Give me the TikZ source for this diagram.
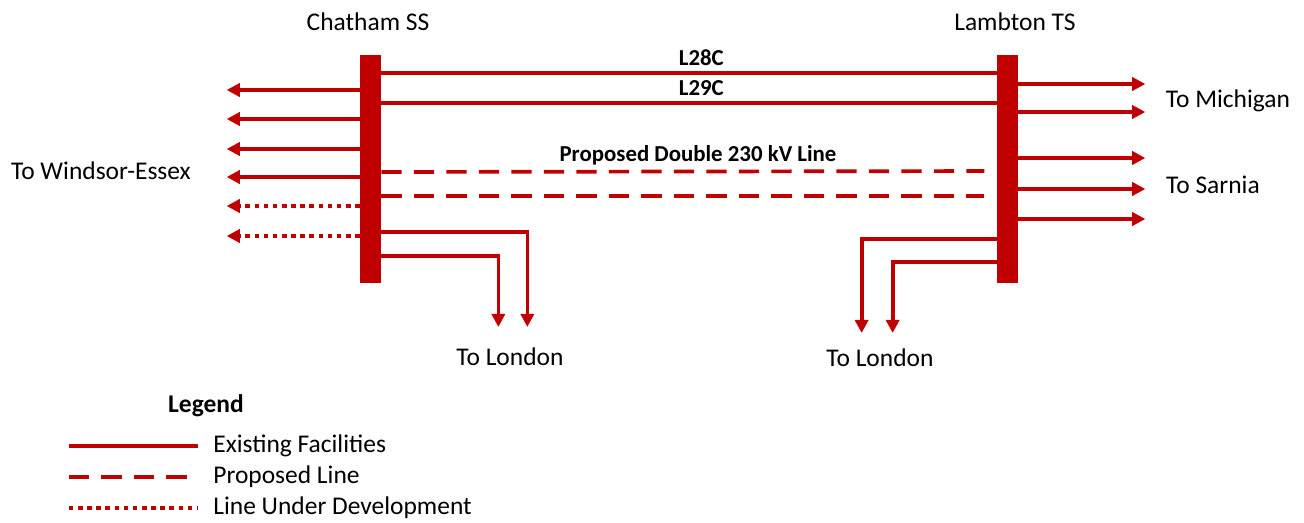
\documentclass[tikz,border=0pt]{standalone}
\usepackage{fontspec}
\setmainfont{Carlito}
\usetikzlibrary{positioning, arrows.meta}
\definecolor{linered}{HTML}{C00000}
\tikzset{
  bus/.style={rectangle, fill=linered, inner sep=0pt, minimum width=0.42cm, minimum height=4.56cm},
  existing/.style={draw=linered, line width=2.1pt},
  proposed/.style={existing, dash pattern=on 11.5pt off 7pt},
  developing/.style={existing, dash pattern=on 2.6pt off 2.6pt},
  feed/.style={-{Triangle[length=7.5pt, width=7.5pt]}},
  placetext/.style={font=\fontsize{14.5}{16}\selectfont, inner sep=0pt},
  linename/.style={font=\bfseries\fontsize{13}{14}\selectfont, inner sep=0pt},
}

\begin{document}
\begin{tikzpicture}[x=0.02cm, y=-0.02cm]
  \useasboundingbox (0,0) rectangle (1304,522);

  \node[bus] (chatham) at (370.5,169) {};
  \node[bus] (lambton) at (1007.5,169) {};

  \node[placetext] (chathamname) at (368,22) {Chatham SS};
  \node[placetext] (lambtonname) at (1015,22) {Lambton TS};
  \node[placetext] (windsor) at (101,171) {To Windsor-Essex};
  \node[placetext] (michigan) at (1228,101) {To Michigan};
  \node[placetext] (sarnia) at (1213,185) {To Sarnia};
  \node[placetext] (londonwest) at (510,357) {To London};
  \node[placetext] (londoneast) at (880,358) {To London};

  % existing circuits between the stations
  \draw[existing] (chatham.east |- 0,73) -- node[linename, above=3pt, pos=0.52] {L28C} (lambton.west |- 0,73);
  \draw[existing] (chatham.east |- 0,103) -- node[linename, above=3pt, pos=0.52] {L29C} (lambton.west |- 0,103);

  % proposed double circuit
  \node[linename] (proposedname) at (698,155) {Proposed Double 230 kV Line};
  \draw[proposed, shorten >=7pt] (chatham.east |- 0,172) -- (lambton.west |- 0,171);
  \draw[proposed, shorten >=7pt] (chatham.east |- 0,196) -- (lambton.west |- 0,196);

  % feeders out of Chatham
  \foreach \y in {90,119,149,177}
    \draw[existing, feed] (chatham.west |- 0,\y) -- ++(-133,0);
  \foreach \y in {206,236}
    \draw[developing, feed] (chatham.west |- 0,\y) -- ++(-133,0);
  \draw[existing, feed] (chatham.east |- 0,232) -- ++(146,0) -- ++(0,95);
  \draw[existing, feed] (chatham.east |- 0,256) -- ++(117,0) -- ++(0,71);

  % feeders out of Lambton
  \foreach \y in {84,112,158,189,219}
    \draw[existing, feed] (lambton.east |- 0,\y) -- ++(127,0);
  \draw[existing, feed] (lambton.west |- 0,239) -- ++(-135,0) -- ++(0,94);
  \draw[existing, feed] (lambton.west |- 0,262) -- ++(-104,0) -- ++(0,71);

  % legend
  \node[placetext, font=\bfseries\fontsize{14.5}{16}\selectfont] (legend) at (206,406) {Legend};
  \node[placetext, anchor=west] (legexist) at (213,446) {Existing Facilities};
  \node[placetext, anchor=west] (legprop) at (213,477) {Proposed Line};
  \node[placetext, anchor=west] (legdev) at (213,508) {Line Under Development};
  \draw[existing] ([xshift=-82pt]legexist.west) -- ([xshift=-8.5pt]legexist.west);
  \draw[proposed] ([xshift=-82pt]legprop.west) -- ([xshift=-8.5pt]legprop.west);
  \draw[developing] ([xshift=-82pt]legdev.west) -- ([xshift=-8.5pt]legdev.west);
\end{tikzpicture}
\end{document}
